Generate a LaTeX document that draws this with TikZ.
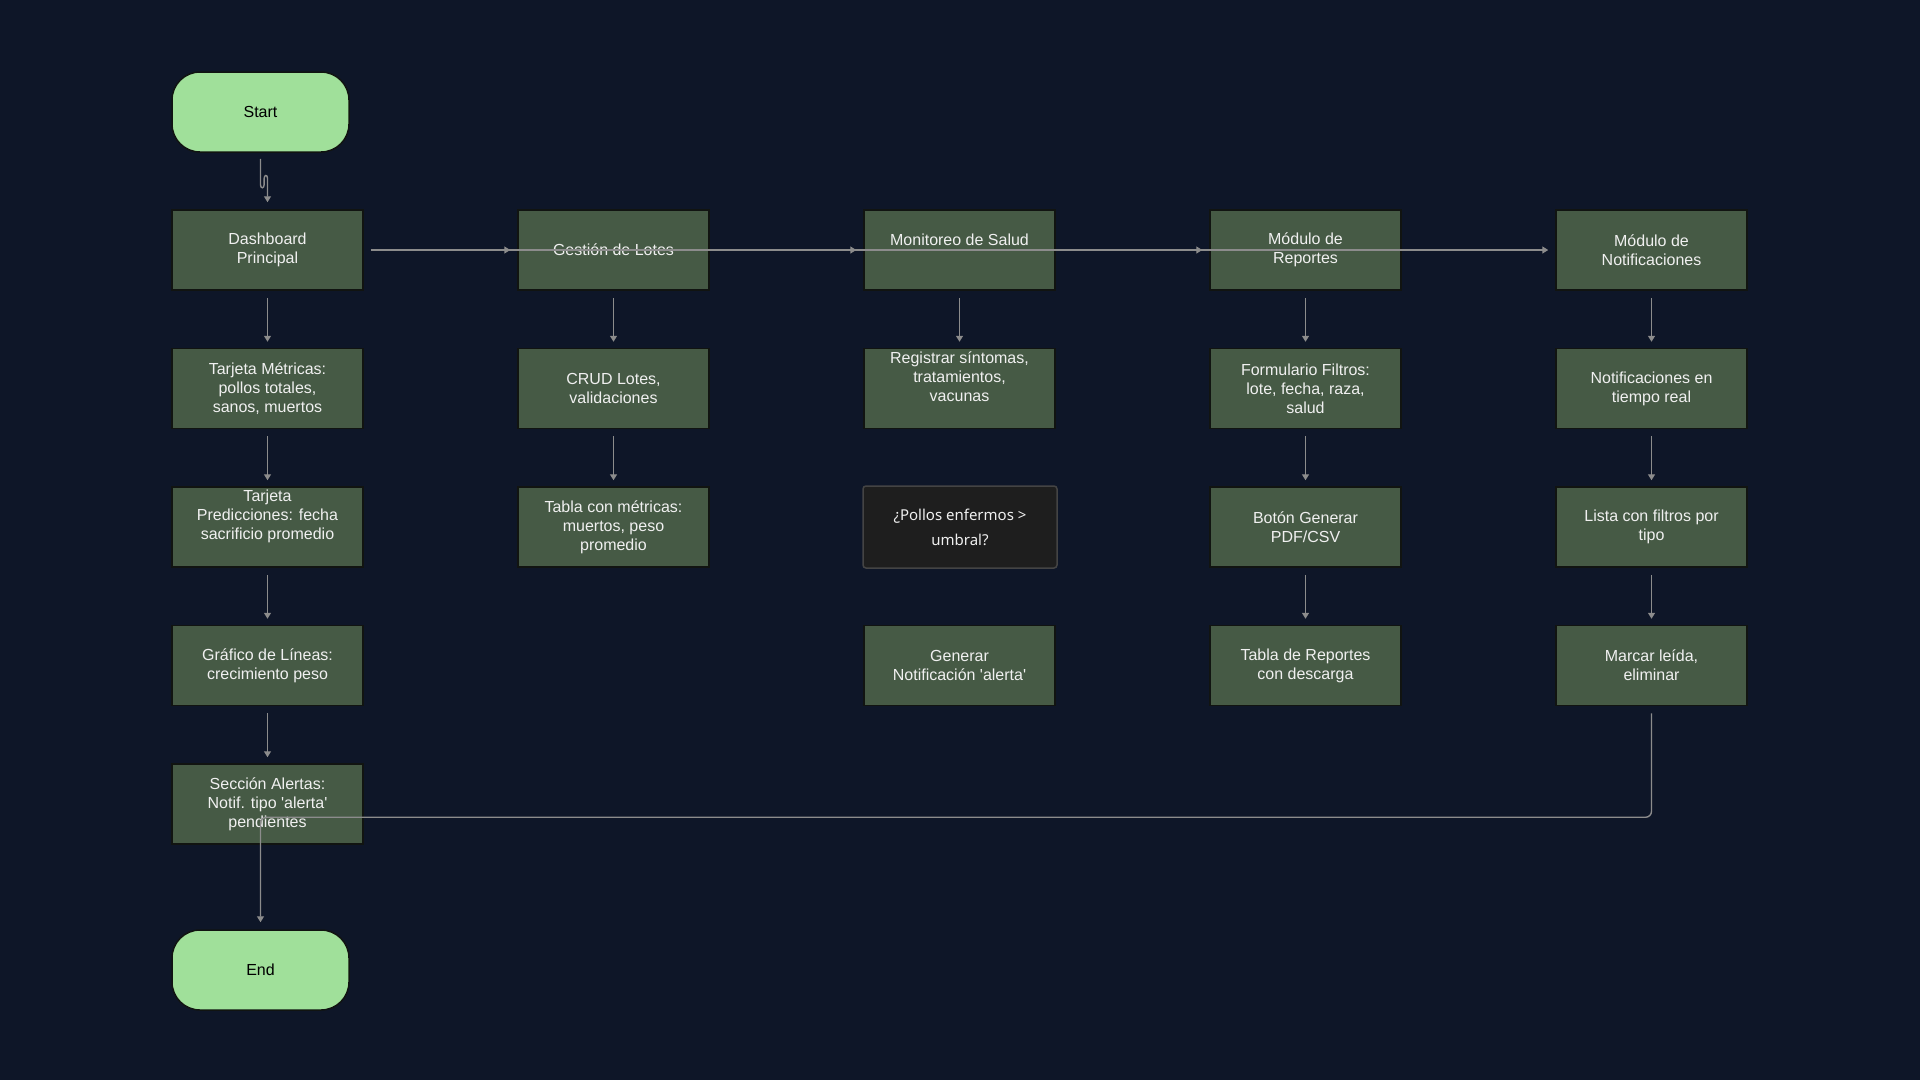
\documentclass[tikz,border=0pt]{standalone}
\usepackage{fontspec}
\setmainfont{Liberation Sans}[Ligatures=TeXOff]
\newfontfamily\decfont{Noto Sans}
\usetikzlibrary{arrows.meta,calc}
\definecolor{bg}{HTML}{0E1628}
\definecolor{boxfill}{HTML}{465A45}
\definecolor{boxborder}{HTML}{111411}
\definecolor{termfill}{HTML}{A0E09A}
\definecolor{decfill}{HTML}{1E1E1E}
\definecolor{decborder}{HTML}{444444}
\definecolor{edgecol}{HTML}{8C8C8C}
\definecolor{txt}{HTML}{F0F0F0}
\begin{document}
\begin{tikzpicture}[x=1pt,y=-1pt,
  stepbox/.style={draw=boxborder, line width=1.5pt, fill=boxfill, minimum width=191pt, minimum height=80pt, inner sep=0pt, text=txt, align=center, font=\fontsize{16}{19}\selectfont},
  term/.style={draw=boxborder, line width=1.5pt, fill=termfill, minimum width=177pt, minimum height=80pt, rounded corners=28pt, text=black, font=\fontsize{16}{19}\selectfont},
  decbox/.style={draw=decborder, line width=1.5pt, fill=decfill, minimum width=194pt, minimum height=82pt, rounded corners=3pt, text=txt, align=center, font=\decfont\fontsize{15}{25}\selectfont},
  edge/.style={draw=edgecol, line width=1.4pt, -{Triangle[width=7pt,length=6pt]}},
  plain/.style={draw=edgecol, line width=1.4pt}]
\fill[bg] (0,0) rectangle (1920,1080);
\useasboundingbox (0,0) rectangle (1920,1080);

% terminals
\node[term] (start) at (260.5,112) {Start};
\node[term] (end) at (260.5,970) {End};

% column 1
\node[stepbox] (dash) at (267.5,250) {Dashboard\\Principal};
\node[stepbox] (metr) at (267.5,388.5) {Tarjeta Métricas:\\pollos totales,\\sanos, muertos};
\node[stepbox] (pred) at (267.5,527) {Tarjeta\\Predicciones: fecha\\sacrificio promedio\\\strut};
\node[stepbox] (graf) at (267.5,665.5) {Gráfico de Líneas:\\crecimiento peso};
\node[stepbox] (aler) at (267.5,804) {Sección Alertas:\\Notif. tipo 'alerta'\\pendientes};

% column 2
\node[stepbox] (lote) at (613.5,250) {Gestión de Lotes};
\node[stepbox] (crud) at (613.5,388.5) {CRUD Lotes,\\validaciones};
\node[stepbox] (tabl) at (613.5,527) {Tabla con métricas:\\muertos, peso\\promedio};

% column 3
\node[stepbox] (salu) at (959.5,250) {Monitoreo de Salud\\[-5pt]\strut};
\node[stepbox] (regi) at (959.5,388.5) {Registrar síntomas,\\tratamientos,\\vacunas\\\strut};
\node[decbox] (deci) at (960,527) {¿Pollos enfermos >\\umbral?};
\node[stepbox] (gene) at (959.5,665.5) {Generar\\Notificación 'alerta'};

% column 4
\node[stepbox] (repo) at (1305.5,250) {Módulo de\\Reportes};
\node[stepbox] (form) at (1305.5,388.5) {Formulario Filtros:\\lote, fecha, raza,\\salud};
\node[stepbox] (boto) at (1305.5,527) {Botón Generar\\PDF/CSV};
\node[stepbox] (trep) at (1305.5,665.5) {Tabla de Reportes\\con descarga};

% column 5
\node[stepbox] (noti) at (1651.5,250) {Módulo de\\Notificaciones};
\node[stepbox] (real) at (1651.5,388.5) {Notificaciones en\\tiempo real};
\node[stepbox] (list) at (1651.5,527) {Lista con filtros por\\tipo};
\node[stepbox] (marc) at (1651.5,665.5) {Marcar leída,\\eliminar};

% start connector with its small S-bend
\draw[edge] ($(start.south)+(0,6)$) -- ++(0,26)
  .. controls +(0,4) and +(0,4) .. ++(3.6,0) -- ++(0,-6)
  .. controls +(0,-4) and +(0,-4) .. ($(dash.north)+(0,-31)$) -- ($(dash.north)+(0,-7)$);

% horizontal connectors from the dashboard
\foreach \t in {lote,salu,repo,noti}
  \draw[edge] ($(dash.east)+(7,0)$) -- ($(\t.west)+(-7,0)$);

% vertical connectors
\foreach \a/\b in {dash/metr,metr/pred,pred/graf,graf/aler,lote/crud,crud/tabl,salu/regi,repo/form,form/boto,boto/trep,noti/real,real/list,list/marc}
  \draw[edge] ($(\a.south)+(0,7)$) -- ($(\b.north)+(0,-6)$);

% return connector to End
\coordinate (turn) at ($(marc.south)+(0,111)$);
\draw[edge, rounded corners=6pt] ($(marc.south)+(0,7)$) -- (turn) -- (turn -| end.north) -- ($(end.north)+(0,-7)$);
\end{tikzpicture}
\end{document}
